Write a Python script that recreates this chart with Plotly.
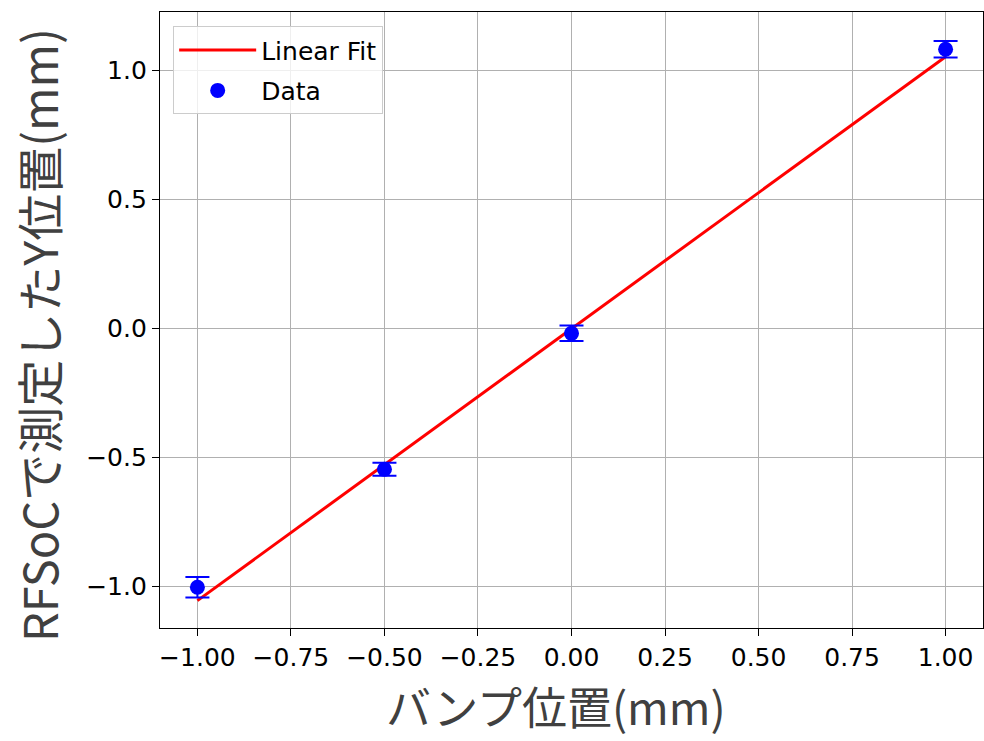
import plotly.graph_objects as go

# Data
bump_pos = [-1.0, -0.5, 0.0, 1.0]
measured_y = [-1.002, -0.545, -0.018, 1.083]
measured_err = [0.040, 0.025, 0.030, 0.032]

fit_slope = 1.054
fit_intercept = 0.0
fit_x = [-1.0, 1.0]
fit_y = [fit_slope * v + fit_intercept for v in fit_x]

x_tick_vals = [-1.0, -0.75, -0.5, -0.25, 0.0, 0.25, 0.5, 0.75, 1.0]
x_tick_text = ["−1.00", "−0.75", "−0.50", "−0.25", "0.00", "0.25", "0.50", "0.75", "1.00"]
y_tick_vals = [-1.0, -0.5, 0.0, 0.5, 1.0]
y_tick_text = ["−1.0", "−0.5", "0.0", "0.5", "1.0"]

x_title = "バンプ位置(mm)"
y_title = "RFSoCで測定したY位置(mm)"

fig = go.Figure()
fig.add_trace(go.Scatter(
    x=fit_x, y=fit_y, mode="lines", name="Linear Fit", legendgroup="fit",
    line=dict(color="red", width=3),
))
fig.add_trace(go.Scatter(
    x=bump_pos, y=measured_y, mode="markers", name="Data", legendgroup="data",
    marker=dict(color="blue", size=15),
    error_y=dict(type="data", array=measured_err, visible=True,
                 color="blue", thickness=2, width=12),
))

axis_common = dict(
    showline=True, linecolor="black", linewidth=1.3, mirror=True,
    showgrid=True, gridcolor="#b0b0b0", gridwidth=1.2,
    zeroline=False, automargin=False,
    ticks="outside", ticklen=7, tickwidth=1.3, tickcolor="black",
    tickfont=dict(family="DejaVu Sans", size=25, color="black"),
)

fig.update_xaxes(range=[-1.1, 1.1], tickvals=x_tick_vals, ticktext=x_tick_text, **axis_common)
fig.update_yaxes(range=[-1.160, 1.2275], tickvals=y_tick_vals, ticktext=y_tick_text, **axis_common)

fig.add_annotation(
    text=x_title, xref="paper", yref="paper", x=0.481, y=0,
    xanchor="center", yanchor="middle", yshift=-77, showarrow=False,
    font=dict(family="Noto Sans CJK JP", size=45, color="#404040"),
)
fig.add_annotation(
    text=y_title, xref="paper", yref="paper", x=0, y=0.5,
    xanchor="center", yanchor="middle", xshift=-123, yshift=-15,
    textangle=-90, showarrow=False,
    font=dict(family="Noto Sans CJK JP", size=47, color="#404040"),
)

fig.update_layout(
    width=984, height=741,
    margin=dict(l=160, r=1, t=12, b=113),
    paper_bgcolor="white", plot_bgcolor="white",
    showlegend=True,
    legend=dict(
        x=0.016, y=0.977, xanchor="left", yanchor="top",
        bgcolor="rgba(255,255,255,0.8)", bordercolor="#cccccc", borderwidth=1,
        font=dict(family="DejaVu Sans", size=25, color="black"),
        itemwidth=77, traceorder="grouped", tracegroupgap=5,
    ),
)

fig.write_html(
    "out.html",
    config={"displayModeBar": False},
    post_script="document.body.style.margin='0px';document.body.style.overflow='hidden';",
)
